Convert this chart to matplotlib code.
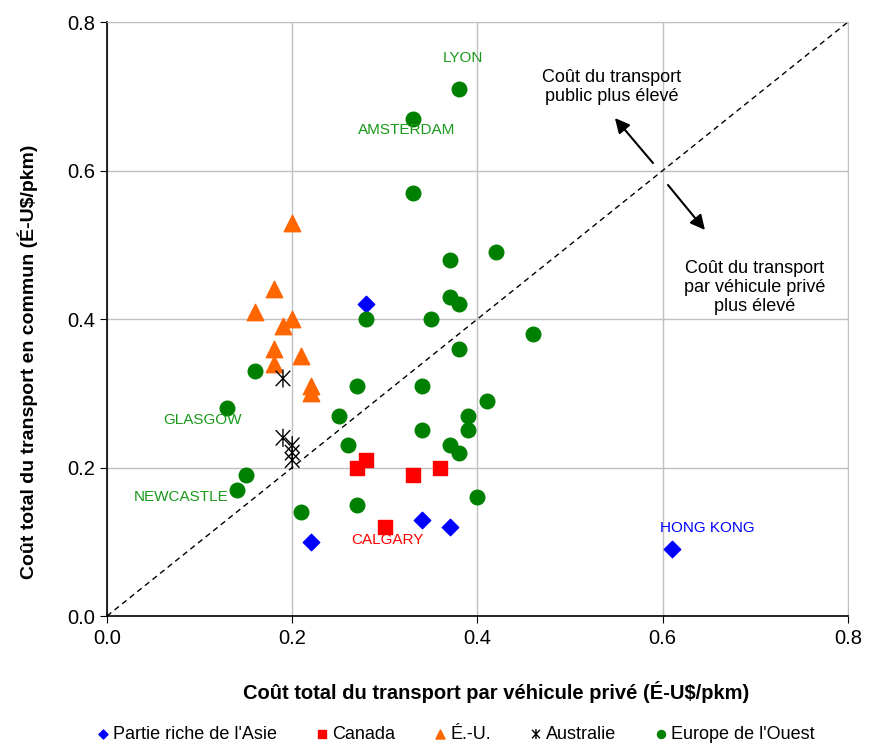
import numpy as np
import matplotlib.pyplot as plt
from matplotlib.path import Path

plt.rcParams['font.family'] = ['Liberation Sans', 'DejaVu Sans']

# Donnees (cout vehicule prive, cout transport en commun) en $US/pkm
asie_x = [0.22, 0.28, 0.34, 0.37, 0.61]
asie_y = [0.10, 0.42, 0.13, 0.12, 0.09]

canada_x = [0.27, 0.28, 0.30, 0.33, 0.36]
canada_y = [0.20, 0.21, 0.12, 0.19, 0.20]

eu_x = [0.20, 0.18, 0.16, 0.20, 0.19, 0.21, 0.18, 0.18, 0.22, 0.22]
eu_y = [0.53, 0.44, 0.41, 0.40, 0.39, 0.35, 0.36, 0.34, 0.31, 0.30]

aus_x = [0.19, 0.19, 0.20, 0.20, 0.20]
aus_y = [0.32, 0.24, 0.23, 0.22, 0.21]

europe_x = [0.38, 0.33, 0.33, 0.37, 0.42, 0.37, 0.38, 0.28, 0.35, 0.46,
            0.38, 0.16, 0.27, 0.34, 0.13, 0.25, 0.39, 0.41, 0.26, 0.34,
            0.39, 0.37, 0.38, 0.15, 0.14, 0.21, 0.27, 0.40]
europe_y = [0.71, 0.67, 0.57, 0.48, 0.49, 0.43, 0.42, 0.40, 0.40, 0.38,
            0.36, 0.33, 0.31, 0.31, 0.28, 0.27, 0.27, 0.29, 0.23, 0.25,
            0.25, 0.23, 0.22, 0.19, 0.17, 0.14, 0.15, 0.16]

# marqueur type "ж" (X + barre verticale)
star = Path([(0, -1), (0, 1), (-0.8, -0.85), (0.8, 0.85), (-0.8, 0.85), (0.8, -0.85)],
            [Path.MOVETO, Path.LINETO, Path.MOVETO, Path.LINETO, Path.MOVETO, Path.LINETO])

fig = plt.figure(figsize=(8.74, 7.44), dpi=100)
ax = fig.add_axes([0.1224, 0.172, 0.8478, 0.7984])

ax.plot([0, 0.8], [0, 0.8], color='black', linestyle='--', linewidth=1, dashes=(4, 3), zorder=2)

ax.scatter(asie_x, asie_y, marker='D', s=70, color='#0000ff', label="Partie riche de l'Asie", zorder=3)
ax.scatter(canada_x, canada_y, marker='s', s=95, color='#ff0000', label='Canada', zorder=3)
ax.scatter(eu_x, eu_y, marker='^', s=140, color='#ff6600', label='É.-U.', zorder=3)
ax.scatter(aus_x, aus_y, marker=star, s=170, facecolor='none', edgecolor='black', linewidths=1,
           label='Australie', zorder=3)
ax.scatter(europe_x, europe_y, marker='o', s=110, color='#008000', label="Europe de l'Ouest", zorder=3)

# etiquettes des villes
lab_green = '#1a991a'
ax.text(0.384, 0.7515, 'LYON', color=lab_green, fontsize=11, ha='center', va='center')
ax.text(0.324, 0.6545, 'AMSTERDAM', color=lab_green, fontsize=11, ha='center', va='center')
ax.text(0.1036, 0.264, 'GLASGOW', color=lab_green, fontsize=11, ha='center', va='center')
ax.text(0.0804, 0.160, 'NEWCASTLE', color=lab_green, fontsize=11, ha='center', va='center')
ax.text(0.303, 0.102, 'CALGARY', color='#ff0000', fontsize=11, ha='center', va='center')
ax.text(0.648, 0.1185, 'HONG KONG', color='#0000ff', fontsize=11, ha='center', va='center')

ax.text(0.5451, 0.7125, 'Coût du transport\npublic plus élevé', fontsize=13, ha='center', va='center',
        linespacing=1.15)
ax.text(0.6996, 0.443, 'Coût du transport\npar véhicule privé\nplus élevé', fontsize=13, ha='center',
        va='center', linespacing=1.15)
ax.annotate('', xy=(0.5484, 0.6707), xytext=(0.5895, 0.6101),
            arrowprops=dict(arrowstyle='-|>', color='black', lw=1.5, mutation_scale=22, shrinkA=0, shrinkB=0))
ax.annotate('', xy=(0.6456, 0.5199), xytext=(0.6057, 0.5805),
            arrowprops=dict(arrowstyle='-|>', color='black', lw=1.5, mutation_scale=22, shrinkA=0, shrinkB=0))

ax.set_xlim(0, 0.8)
ax.set_ylim(0, 0.8)
ticks = [0.0, 0.2, 0.4, 0.6, 0.8]
ax.set_xticks(ticks)
ax.set_yticks(ticks)
ax.set_xticklabels(['0.0', '0.2', '0.4', '0.6', '0.8'])
ax.set_yticklabels(['0.0', '0.2', '0.4', '0.6', '0.8'])
ax.tick_params(labelsize=14.5, length=5, direction='out')
ax.tick_params(axis='x', pad=4)
ax.grid(True, color='#c0c0c0', linewidth=1)
ax.set_axisbelow(True)
for s in ['top', 'right']:
    ax.spines[s].set_color('#c0c0c0')
ax.spines['left'].set_linewidth(1.2)
ax.spines['bottom'].set_linewidth(1.2)

ax.set_xlabel('Coût total du transport par véhicule privé (É-U$/pkm)', fontsize=14.5, fontweight='bold')
ax.set_ylabel('Coût total du transport en commun (É-U$/pkm)', fontsize=14, fontweight='bold')
ax.xaxis.set_label_coords(0.525, -0.11)
ax.yaxis.set_label_coords(-0.093, 0.428)

fig.legend(loc='center', bbox_to_anchor=(0.52, 0.013), ncol=5, frameon=False, fontsize=13,
           handletextpad=0.05, columnspacing=2.0, markerscale=0.55, handlelength=1.0)

fig.savefig('out.png', dpi=100)
